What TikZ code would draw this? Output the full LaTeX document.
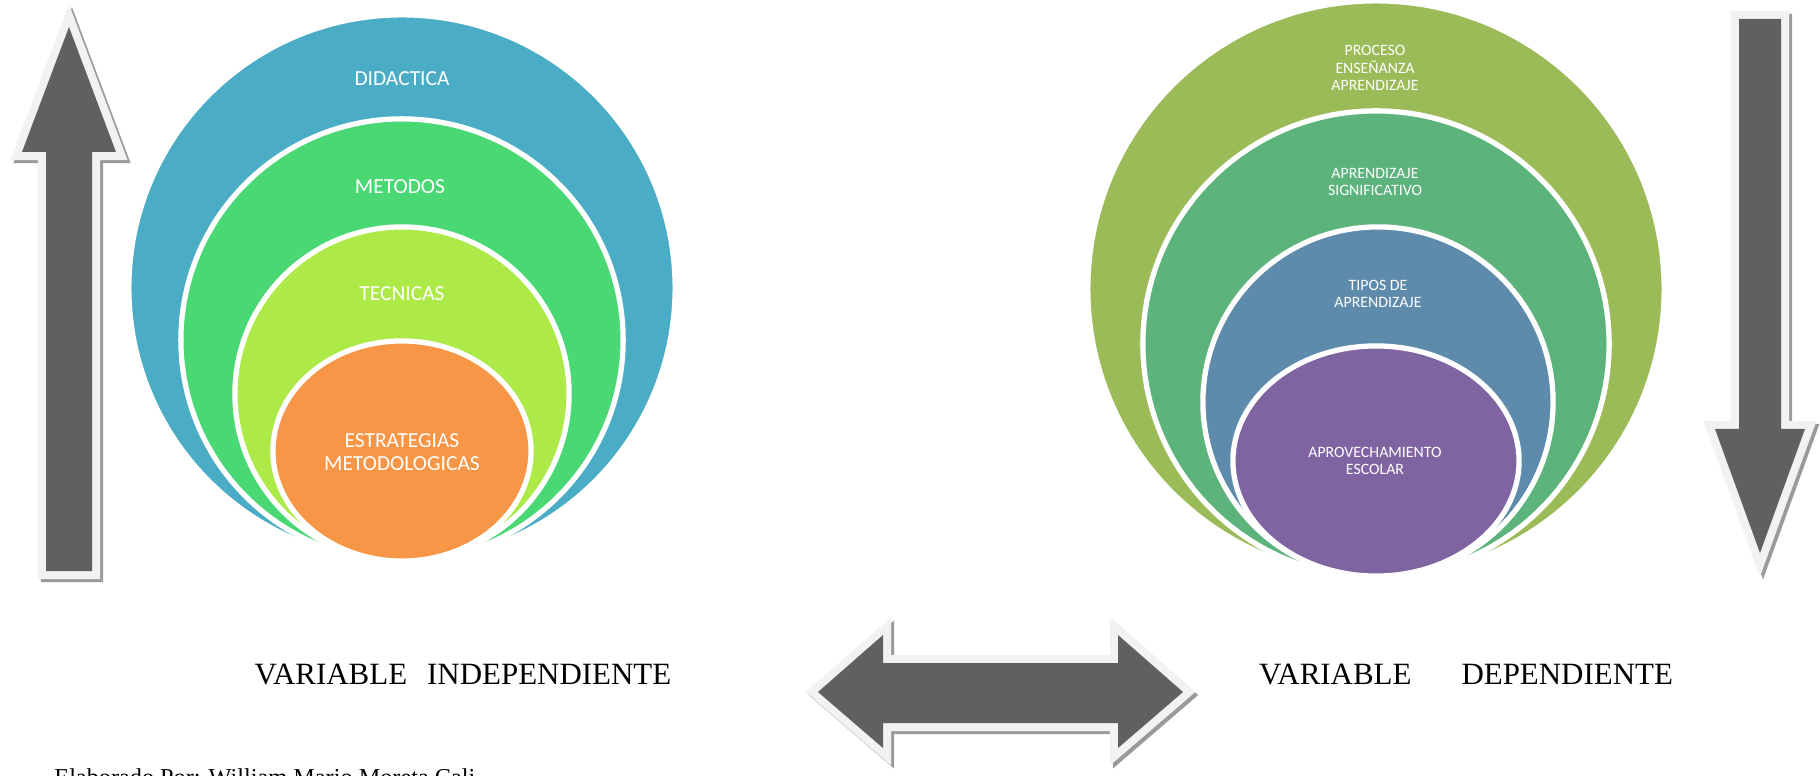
\documentclass[tikz,border=0pt]{standalone}
\usepackage{fontspec}
\setmainfont{Liberation Serif}
\newfontfamily\calibri{Carlito}
\usetikzlibrary{shapes.geometric}
\definecolor{didblue}{HTML}{4BACC6}
\definecolor{metgreen}{HTML}{49D873}
\definecolor{teclime}{HTML}{ADEA48}
\definecolor{estorange}{HTML}{F79646}
\definecolor{proolive}{HTML}{9BBB59}
\definecolor{siggreen}{HTML}{5CB37C}
\definecolor{tipblue}{HTML}{5E8BAC}
\definecolor{aprpurple}{HTML}{8064A2}
\definecolor{arrowdark}{HTML}{606060}
\definecolor{rim}{HTML}{F2F2F2}
\definecolor{shade}{HTML}{9A9A9A}
\begin{document}
\begin{tikzpicture}[x=0.01cm, y=-0.01cm,
    ring/.style={circle, draw=white, line width=1.5pt, inner sep=0pt, outer sep=0pt},
    oval/.style={ellipse, draw=white, line width=1.5pt, inner sep=0pt, outer sep=0pt},
    txt/.style={text=white, font=\calibri\fontsize{6.1}{6.5}\selectfont, align=center},
    small/.style={text=white, font=\calibri\fontsize{4.5}{5}\selectfont, align=center},
    var/.style={font=\fontsize{8.8}{10}\selectfont},
    blk/.style={fill=arrowdark, line join=miter,
        preaction={draw=shade, fill=shade, line width=0.16cm, transform canvas={shift={(3,3)}}},
        preaction={draw=rim, line width=0.16cm}}]
    \useasboundingbox (0,0) rectangle (1820,776);
    % left target
    \node[ring, fill=didblue, minimum size=5.46cm] (did) at (402,288) {};
    \node[ring, fill=metgreen, minimum size=4.42cm] (met) at (402,340) {};
    \node[ring, fill=teclime, minimum size=3.34cm] (tec) at (402,394) {};
    \node[oval, fill=estorange, minimum width=2.58cm, minimum height=2.2cm] (est) at (402,451) {};
    \node[txt] (t1) at (402,79) {DIDACTICA};
    \node[txt] (t2) at (400,187) {METODOS};
    \node[txt] (t3) at (402,294) {TECNICAS};
    \node[txt] (t4) at (402,452) {ESTRATEGIAS\\METODOLOGICAS};
    % right target
    \node[ring, fill=proolive, minimum size=5.76cm] (pro) at (1376,289) {};
    \node[ring, fill=siggreen, minimum size=4.66cm] (sig) at (1376,344) {};
    \node[ring, fill=tipblue, minimum size=3.5cm] (tip) at (1378,402) {};
    \node[oval, fill=aprpurple, minimum width=2.86cm, minimum height=2.3cm] (apr) at (1376,461) {};
    \node[small] (s1) at (1375,68) {PROCESO\\ENSEÑANZA\\APRENDIZAJE};
    \node[small] (s2) at (1375,182) {APRENDIZAJE\\SIGNIFICATIVO};
    \node[small] (s3) at (1378,294) {TIPOS DE\\APRENDIZAJE};
    \node[small] (s4) at (1375,461) {APROVECHAMIENTO\\ESCOLAR};
    % block arrows
    \path[blk] (69,27) -- (116,152) -- (92,152) -- (92,571) -- (46,571) -- (46,152) -- (22,152) -- cycle;
    \path[blk] (1760,553) -- (1805,429) -- (1781,429) -- (1781,19) -- (1739,19) -- (1739,429) -- (1715,429) -- cycle;
    \path[blk] (818,692) -- (883,635) -- (883,663) -- (1118,663) -- (1118,635) -- (1183,692)
        -- (1118,748) -- (1118,723) -- (883,723) -- (883,748) -- cycle;
    % captions
    \node[var] (vi) at (463,675) {VARIABLE\hspace{0.2cm}INDEPENDIENTE};
    \node[var] (vd) at (1466,675) {VARIABLE\hspace{0.5cm}DEPENDIENTE};
    \node[anchor=base west, font=\fontsize{6.9}{8}\selectfont] (src) at (42,785) {Elaborado Por: William Mario Moreta Cali};
\end{tikzpicture}
\end{document}
